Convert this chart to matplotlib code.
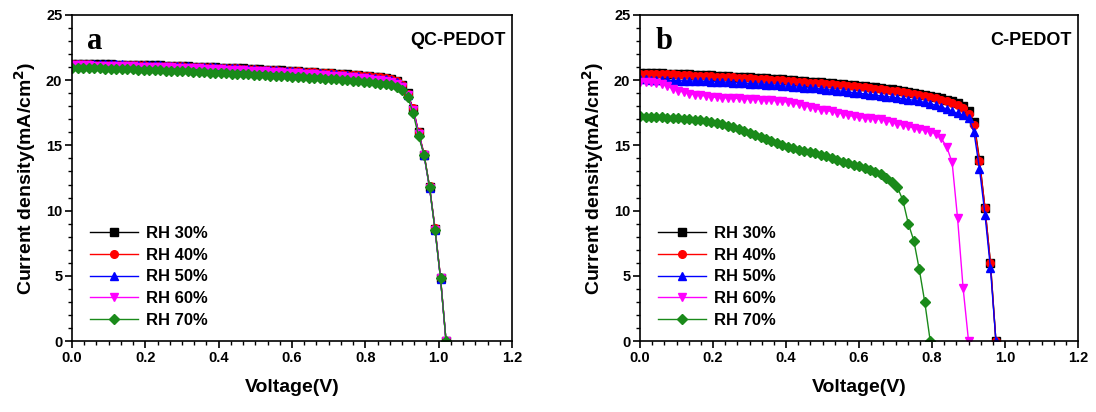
import numpy as np
import matplotlib
matplotlib.use('Agg')
import matplotlib.pyplot as plt
from matplotlib.ticker import MultipleLocator, AutoMinorLocator

plt.rcParams['font.family'] = ['Liberation Sans', 'DejaVu Sans']
plt.rcParams['font.weight'] = 'bold'

# voltage sweep (V)
volt = [0.000, 0.015, 0.030, 0.045, 0.060, 0.075, 0.090, 0.105, 0.120, 0.135,
        0.150, 0.165, 0.180, 0.195, 0.210, 0.225, 0.240, 0.255, 0.270, 0.285,
        0.300, 0.315, 0.330, 0.345, 0.360, 0.375, 0.390, 0.405, 0.420, 0.435,
        0.450, 0.465, 0.480, 0.495, 0.510, 0.525, 0.540, 0.555, 0.570, 0.585,
        0.600, 0.615, 0.630, 0.645, 0.660, 0.675, 0.690, 0.705, 0.720, 0.735,
        0.750, 0.765, 0.780, 0.795, 0.810, 0.825, 0.840, 0.855, 0.870, 0.885,
        0.900, 0.915, 0.930, 0.945, 0.960, 0.975, 0.990, 1.005, 1.020]

labels = ['RH 30%', 'RH 40%', 'RH 50%', 'RH 60%', 'RH 70%']

# panel a: QC-PEDOT
qc_rh30 = [21.25, 21.24, 21.24, 21.23, 21.23, 21.22, 21.22, 21.21, 21.20, 21.20,
           21.19, 21.18, 21.17, 21.16, 21.15, 21.14, 21.13, 21.12, 21.11, 21.10,
           21.08, 21.07, 21.05, 21.04, 21.02, 21.01, 20.99, 20.97, 20.96, 20.94,
           20.92, 20.90, 20.88, 20.86, 20.84, 20.82, 20.80, 20.78, 20.76, 20.73,
           20.71, 20.69, 20.66, 20.64, 20.61, 20.59, 20.56, 20.53, 20.50, 20.47,
           20.44, 20.41, 20.38, 20.35, 20.31, 20.27, 20.22, 20.16, 20.08, 19.95,
           19.65, 19.00, 17.80, 16.00, 14.30, 11.80, 8.60, 4.80, 0.0]
qc_rh40 = [21.22, 21.22, 21.21, 21.21, 21.20, 21.20, 21.19, 21.18, 21.18, 21.17,
           21.16, 21.15, 21.14, 21.13, 21.12, 21.11, 21.10, 21.09, 21.08, 21.07,
           21.06, 21.04, 21.03, 21.01, 21.00, 20.98, 20.97, 20.95, 20.93, 20.92,
           20.90, 20.88, 20.86, 20.84, 20.82, 20.80, 20.78, 20.76, 20.74, 20.72,
           20.70, 20.68, 20.65, 20.63, 20.60, 20.58, 20.55, 20.52, 20.49, 20.46,
           20.43, 20.40, 20.37, 20.34, 20.30, 20.26, 20.21, 20.15, 20.06, 19.92,
           19.60, 18.95, 17.85, 16.05, 14.35, 11.85, 8.65, 4.85, 0.0]
qc_rh50 = [21.28, 21.27, 21.27, 21.26, 21.25, 21.25, 21.24, 21.23, 21.22, 21.21,
           21.20, 21.19, 21.18, 21.17, 21.16, 21.15, 21.14, 21.12, 21.11, 21.10,
           21.08, 21.07, 21.05, 21.03, 21.02, 21.00, 20.98, 20.96, 20.94, 20.92,
           20.90, 20.88, 20.86, 20.84, 20.82, 20.79, 20.77, 20.75, 20.72, 20.70,
           20.67, 20.65, 20.62, 20.59, 20.56, 20.53, 20.50, 20.47, 20.44, 20.41,
           20.38, 20.34, 20.30, 20.26, 20.22, 20.17, 20.12, 20.06, 19.98, 19.85,
           19.55, 18.90, 17.75, 15.95, 14.25, 11.75, 8.55, 4.75, 0.0]
qc_rh60 = [21.15, 21.14, 21.14, 21.13, 21.12, 21.12, 21.11, 21.10, 21.09, 21.08,
           21.07, 21.06, 21.05, 21.04, 21.03, 21.02, 21.00, 20.99, 20.98, 20.96,
           20.95, 20.93, 20.92, 20.90, 20.88, 20.87, 20.85, 20.83, 20.81, 20.79,
           20.77, 20.75, 20.73, 20.71, 20.69, 20.67, 20.64, 20.62, 20.60, 20.57,
           20.55, 20.52, 20.50, 20.47, 20.44, 20.41, 20.38, 20.35, 20.32, 20.29,
           20.25, 20.22, 20.18, 20.14, 20.10, 20.05, 20.00, 19.94, 19.86, 19.74,
           19.45, 18.85, 17.70, 15.90, 14.25, 11.75, 8.55, 4.80, 0.0]
qc_rh70 = [20.95, 20.94, 20.93, 20.92, 20.91, 20.90, 20.89, 20.88, 20.87, 20.86,
           20.84, 20.83, 20.82, 20.80, 20.79, 20.77, 20.76, 20.74, 20.72, 20.71,
           20.69, 20.67, 20.65, 20.63, 20.61, 20.59, 20.57, 20.55, 20.53, 20.51,
           20.49, 20.47, 20.45, 20.43, 20.41, 20.38, 20.36, 20.34, 20.32, 20.30,
           20.28, 20.25, 20.23, 20.20, 20.18, 20.15, 20.12, 20.09, 20.06, 20.03,
           20.00, 19.96, 19.92, 19.88, 19.84, 19.79, 19.74, 19.68, 19.60, 19.50,
           19.25, 18.75, 17.50, 15.70, 14.30, 11.80, 8.50, 4.80, 0.0]

# panel b: C-PEDOT
c_rh30 = [20.55, 20.55, 20.54, 20.53, 20.52, 20.50, 20.49, 20.48, 20.46, 20.45,
          20.43, 20.40, 20.38, 20.37, 20.35, 20.33, 20.30, 20.28, 20.27, 20.25,
          20.22, 20.20, 20.18, 20.15, 20.12, 20.10, 20.06, 20.02, 19.98, 19.95,
          19.92, 19.90, 19.87, 19.83, 19.80, 19.76, 19.72, 19.70, 19.66, 19.62,
          19.58, 19.55, 19.50, 19.45, 19.40, 19.35, 19.30, 19.22, 19.15, 19.10,
          19.05, 18.98, 18.90, 18.80, 18.70, 18.60, 18.50, 18.40, 18.25, 18.05,
          17.65, 16.80, 13.90, 10.20, 6.00, 0.0]
c_rh40 = [20.50, 20.50, 20.49, 20.48, 20.47, 20.45, 20.44, 20.42, 20.40, 20.38,
          20.36, 20.34, 20.32, 20.30, 20.28, 20.26, 20.24, 20.22, 20.20, 20.18,
          20.16, 20.13, 20.10, 20.08, 20.05, 20.02, 19.98, 19.95, 19.92, 19.88,
          19.85, 19.82, 19.80, 19.76, 19.72, 19.68, 19.65, 19.62, 19.58, 19.55,
          19.50, 19.46, 19.42, 19.36, 19.30, 19.25, 19.20, 19.14, 19.08, 19.02,
          18.98, 18.90, 18.82, 18.72, 18.62, 18.52, 18.40, 18.28, 18.12, 17.90,
          17.40, 16.60, 13.80, 10.20, 6.00, 0.0]
c_rh50 = [20.10, 20.08, 20.05, 20.02, 20.00, 19.98, 19.97, 19.96, 19.95, 19.94,
          19.93, 19.92, 19.91, 19.90, 19.88, 19.86, 19.84, 19.82, 19.80, 19.77,
          19.74, 19.72, 19.70, 19.67, 19.64, 19.60, 19.57, 19.54, 19.50, 19.47,
          19.44, 19.40, 19.37, 19.33, 19.28, 19.24, 19.20, 19.15, 19.10, 19.05,
          19.00, 18.95, 18.90, 18.85, 18.80, 18.75, 18.70, 18.64, 18.58, 18.52,
          18.46, 18.38, 18.30, 18.20, 18.08, 17.95, 17.80, 17.62, 17.45, 17.30,
          17.10, 16.00, 13.20, 9.70, 5.60, 0.0]
c_rh60 = [19.90, 19.88, 19.85, 19.80, 19.72, 19.55, 19.35, 19.20, 19.08, 18.98,
          18.90, 18.85, 18.78, 18.72, 18.68, 18.66, 18.64, 18.62, 18.60, 18.58,
          18.56, 18.55, 18.52, 18.50, 18.46, 18.42, 18.38, 18.32, 18.25, 18.15,
          18.05, 17.95, 17.85, 17.75, 17.68, 17.60, 17.52, 17.42, 17.32, 17.22,
          17.15, 17.10, 17.08, 17.06, 17.00, 16.90, 16.78, 16.66, 16.55, 16.45,
          16.35, 16.25, 16.15, 16.05, 15.90, 15.55, 14.90, 13.70, 9.40, 4.10,
          0.0]
c_rh70 = [17.22, 17.20, 17.18, 17.16, 17.14, 17.12, 17.10, 17.08, 17.05, 17.02,
          16.98, 16.92, 16.85, 16.78, 16.72, 16.62, 16.50, 16.38, 16.25, 16.10,
          15.95, 15.80, 15.65, 15.50, 15.35, 15.20, 15.05, 14.90, 14.78, 14.68,
          14.60, 14.52, 14.42, 14.30, 14.15, 14.00, 13.85, 13.72, 13.62, 13.52,
          13.42, 13.30, 13.15, 12.98, 12.78, 12.52, 12.20, 11.80, 10.80, 9.00,
          7.70, 5.50, 3.00, 0.0]

colors = ['black', 'red', 'blue', 'magenta', '#1a8a1a']
markers = ['s', 'o', '^', 'v', 'D']

fig = plt.figure(figsize=(10.96, 4.12), dpi=100)
ax_a = fig.add_axes([0.0657, 0.1723, 0.4015, 0.7913])
ax_b = fig.add_axes([0.5840, 0.1723, 0.3996, 0.7913])

panels = [
    (ax_a, [qc_rh30, qc_rh40, qc_rh50, qc_rh60, qc_rh70], 'a', 'QC-PEDOT'),
    (ax_b, [c_rh30, c_rh40, c_rh50, c_rh60, c_rh70], 'b', 'C-PEDOT'),
]

for ax, series, letter, name in panels:
    for j, lab, c, m in zip(series, labels, colors, markers):
        ms = 5 if m == 'D' else 5.5
        ax.plot(volt[:len(j)], j, color=c, marker=m, ms=ms, lw=1.0, label=lab)

    ax.set_xlim(0, 1.2)
    ax.set_ylim(0, 25)
    ax.xaxis.set_major_locator(MultipleLocator(0.2))
    ax.xaxis.set_minor_locator(AutoMinorLocator(6))
    ax.yaxis.set_major_locator(MultipleLocator(5))
    ax.yaxis.set_minor_locator(AutoMinorLocator(5))
    ax.tick_params(which='major', direction='out', length=5, width=1.2,
                   labelsize=10.5, pad=2)
    ax.tick_params(which='minor', direction='out', length=3, width=1.0)
    ax.set_xticklabels(['%.1f' % v for v in ax.get_xticks()], fontweight='bold')
    ax.set_yticklabels(['%d' % v for v in ax.get_yticks()], fontweight='bold')
    for s in ax.spines.values():
        s.set_linewidth(1.2)

    ax.set_xlabel('Voltage(V)', fontsize=14, fontweight='bold', labelpad=10)
    ax.set_ylabel('Current density(mA/cm$^\\mathbf{2}$)', fontsize=14,
                  fontweight='bold', labelpad=6)

    ax.text(0.035, 0.92, letter, transform=ax.transAxes, fontsize=22,
            fontweight='bold', family='Liberation Serif', va='center')
    ax.text(0.985, 0.923, name, transform=ax.transAxes, fontsize=13,
            fontweight='bold', ha='right', va='center')

    ax.legend(loc='lower left', bbox_to_anchor=(0.01, 0.0), frameon=False,
              handlelength=2.9, handletextpad=0.45, labelspacing=0.4,
              borderpad=0.3, prop={'size': 12, 'weight': 'bold'})

plt.savefig('out.png', dpi=100)
